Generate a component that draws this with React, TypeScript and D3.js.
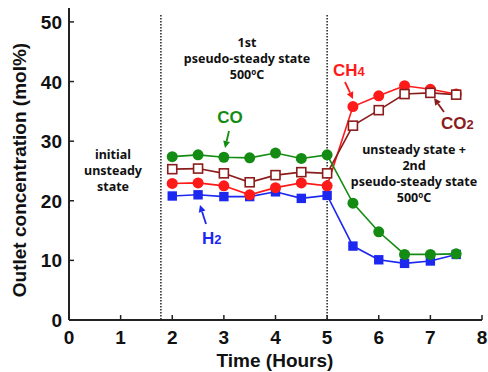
import React from "react";
import * as d3 from "d3";

const times = [2, 2.5, 3, 3.5, 4, 4.5, 5, 5.5, 6, 6.5, 7, 7.5];
const coValues = [27.4, 27.7, 27.3, 27.2, 28.0, 27.1, 27.7, 19.6, 14.8, 11.0, 11.0, 11.1];
const co2Values = [25.3, 25.4, 24.6, 23.1, 24.3, 24.8, 24.6, 32.6, 35.2, 37.9, 38.1, 37.8];
const ch4Values = [22.9, 23.0, 22.5, 21.0, 22.2, 23.0, 22.5, 35.8, 37.6, 39.3, 38.7, 37.9];
const h2Values = [20.8, 21.0, 20.7, 20.7, 21.5, 20.4, 20.9, 12.4, 10.1, 9.5, 9.9, 11.0];
const xTicks = [0, 1, 2, 3, 4, 5, 6, 7, 8];
const yTicks = [0, 10, 20, 30, 40, 50];
const phaseBoundaries = [1.78, 5];

const W = 488;
const H = 372;
const annFont = "'Noto Sans', 'Open Sans', sans-serif";
const axFont = "'Liberation Sans', Arial, sans-serif";

const GREEN = "#148c14";
const RED = "#ff1a1a";
const DARKRED = "#8c1c1c";
const BLUE = "#1c28f0";

export default function App() {
  const x = d3.scaleLinear().domain([0, 8]).range([69, 482]);
  const y = d3.scaleLinear().domain([0, 52]).range([320, 10]);
  const line = (vals: number[]) =>
    d3.line<number>().x((_, i) => x(times[i])).y((v) => y(v))(vals) || "";

  const arrow = (x1: number, y1: number, x2: number, y2: number, color: string) => {
    const ang = Math.atan2(y2 - y1, x2 - x1);
    const L = 7, Wd = 3.5;
    const bx = x2 - L * Math.cos(ang), by = y2 - L * Math.sin(ang);
    const px = -Math.sin(ang) * Wd, py = Math.cos(ang) * Wd;
    return (
      <g>
        <line x1={x1} y1={y1} x2={bx} y2={by} stroke={color} strokeWidth={1.8} />
        <path d={`M${x2},${y2} L${bx + px},${by + py} L${bx - px},${by - py} Z`} fill={color} />
      </g>
    );
  };

  return (
    <svg width={W} height={H} style={{ position: "absolute", left: 0, top: 0, background: "#fff" }}>
      {/* dotted phase boundaries */}
      {phaseBoundaries.map((b) => (
        <line key={b} x1={x(b)} x2={x(b)} y1={15} y2={y(0)} stroke="#222" strokeWidth={1.5} strokeDasharray="1.5 1.5" />
      ))}

      {/* series lines */}
      <path d={line(h2Values)} fill="none" stroke={BLUE} strokeWidth={1.6} />
      <path d={line(ch4Values)} fill="none" stroke={RED} strokeWidth={1.6} />
      <path d={line(co2Values)} fill="none" stroke={DARKRED} strokeWidth={1.6} />
      <path d={line(coValues)} fill="none" stroke={GREEN} strokeWidth={1.6} />

      {/* markers */}
      {h2Values.map((v, i) => (
        <rect key={"h2" + i} x={x(times[i]) - 4.7} y={y(v) - 4.7} width={9.4} height={9.4} fill={BLUE} />
      ))}
      {ch4Values.map((v, i) => (
        <circle key={"ch4" + i} cx={x(times[i])} cy={y(v)} r={5.5} fill={RED} />
      ))}
      {co2Values.map((v, i) => (
        <rect key={"co2" + i} x={x(times[i]) - 4.5} y={y(v) - 4.5} width={9} height={9} fill="#fff" stroke={DARKRED} strokeWidth={1.6} />
      ))}
      {coValues.map((v, i) => (
        <circle key={"co" + i} cx={x(times[i])} cy={y(v)} r={5.5} fill={GREEN} />
      ))}

      {/* axes */}
      <line x1={x(0)} x2={x(0)} y1={8} y2={y(0)} stroke="#222" strokeWidth={2} />
      <line x1={x(0)} x2={x(8)} y1={y(0)} y2={y(0)} stroke="#222" strokeWidth={2} />
      {xTicks.map((t) => (
        <g key={"xt" + t}>
          <line x1={x(t)} x2={x(t)} y1={y(0)} y2={y(0) - 5} stroke="#222" strokeWidth={1.5} />
          <text x={x(t)} y={344} textAnchor="middle" fontFamily={axFont} fontWeight="bold" fontSize={19} fill="#111">{t}</text>
        </g>
      ))}
      {yTicks.map((t) => (
        <g key={"yt" + t}>
          <line x1={x(0)} x2={x(0) + 5} y1={y(t)} y2={y(t)} stroke="#222" strokeWidth={1.5} />
          <text x={62} y={y(t) + 7} textAnchor="end" fontFamily={axFont} fontWeight="bold" fontSize={19} fill="#111">{t}</text>
        </g>
      ))}
      <text x={275} y={367} textAnchor="middle" fontFamily={axFont} fontWeight="bold" fontSize={19} fill="#111">Time (Hours)</text>
      <text transform="translate(26,170) rotate(-90)" textAnchor="middle" fontFamily={axFont} fontWeight="bold" fontSize={19} fill="#111">Outlet concentration (mol%)</text>

      {/* phase annotations */}
      <g fontFamily={annFont} fontWeight="bold" fontSize={12.5} fill="#111" textAnchor="middle">
        <text x={247} y={47}>1st</text>
        <text x={247} y={63}>pseudo-steady state</text>
        <text x={247} y={79}>500<tspan fontSize={8} dy={-4}>o</tspan><tspan dy={4}>C</tspan></text>

        <text x={113} y={159}>initial</text>
        <text x={113} y={175}>unsteady</text>
        <text x={113} y={191}>state</text>

        <text x={414} y={154}>unsteady state +</text>
        <text x={414} y={170}>2nd</text>
        <text x={414} y={186}>pseudo-steady state</text>
        <text x={414} y={202}>500<tspan fontSize={8} dy={-4}>o</tspan><tspan dy={4}>C</tspan></text>
      </g>

      {/* series labels */}
      <g fontFamily={axFont} fontWeight="bold" fontSize={17}>
        <text x={230} y={123} textAnchor="middle" fill={GREEN}>CO</text>
        <text x={333} y={76} fill={RED}>CH<tspan fontSize={13}>4</tspan></text>
        <text x={441} y={129} fill={DARKRED}>CO<tspan fontSize={13}>2</tspan></text>
        <text x={202} y={244} fill={BLUE}>H<tspan fontSize={13}>2</tspan></text>
      </g>
      {arrow(229, 131, 225, 148, GREEN)}
      {arrow(345, 82, 353, 99, RED)}
      {arrow(444, 112, 434, 98, DARKRED)}
      {arrow(206, 224, 200, 205, BLUE)}
    </svg>
  );
}
